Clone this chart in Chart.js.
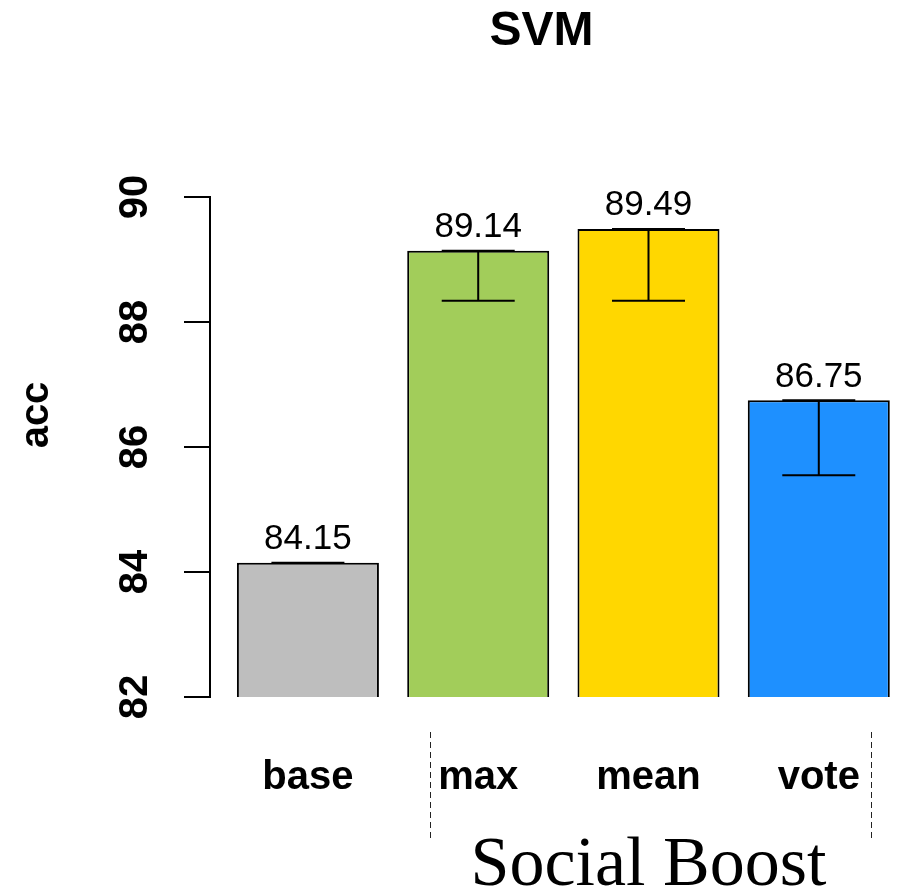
<!DOCTYPE html>
<html>
<head>
<meta charset="utf-8">
<script src="https://cdn.jsdelivr.net/npm/chart.js@4.4.1/dist/chart.umd.min.js"></script>
<style>
  html, body { margin: 0; padding: 0; background: #ffffff; }
  #wrap { width: 899px; height: 888px; }
</style>
</head>
<body>
<div id="wrap"><canvas id="c" width="899" height="888"></canvas></div>
<script>
// Accuracy of the SVM variants
const categories = ['base', 'max', 'mean', 'vote'];
const accuracy = [84.15, 89.14, 89.49, 86.75];
const lowerBound = [84.15, 88.34, 88.34, 85.55];
const barColors = ['#BEBEBE', '#A2CD5A', '#FFD700', '#1E90FF'];
const yTicks = [82, 84, 86, 88, 90];
const chartTitle = 'SVM';
const yTitle = 'acc';
const groupLabel = 'Social Boost';

const SANS = "'Liberation Sans', Arial, Helvetica, sans-serif";
const SERIF = "'Liberation Serif', 'Times New Roman', serif";

// group bracket (x in bar units) for the Social Boost methods
const bracketFrom = 0.716;
const bracketTo = 3.306;

const overlay = {
  id: 'overlay',
  afterDatasetsDraw(chart) {
    const ctx = chart.ctx;
    const ys = chart.scales.y;
    const meta = chart.getDatasetMeta(0);
    ctx.save();
    ctx.strokeStyle = '#000';
    ctx.lineWidth = 2;
    meta.data.forEach((bar, i) => {
      const cx = bar.x;
      const yTop = ys.getPixelForValue(accuracy[i]);
      const yLow = ys.getPixelForValue(lowerBound[i]);
      const half = bar.width * 0.257;
      ctx.beginPath();
      ctx.moveTo(cx, yTop); ctx.lineTo(cx, yLow);
      ctx.moveTo(cx - half, yTop); ctx.lineTo(cx + half, yTop);
      ctx.moveTo(cx - half, yLow); ctx.lineTo(cx + half, yLow);
      ctx.stroke();
      // value label
      ctx.fillStyle = '#000';
      ctx.font = '35px ' + SANS;
      ctx.textAlign = 'center';
      ctx.textBaseline = 'alphabetic';
      ctx.fillText(accuracy[i].toFixed(2), cx, yTop - 13.5);
    });
    ctx.restore();
  },
  afterDraw(chart) {
    const ctx = chart.ctx;
    const xs = chart.scales.x;
    const ys = chart.scales.y;
    ctx.save();
    ctx.fillStyle = '#000';
    // rotated y tick labels
    ctx.font = 'bold 40px ' + SANS;
    ctx.textAlign = 'center';
    ctx.textBaseline = 'middle';
    yTicks.forEach(v => {
      const y = ys.getPixelForValue(v);
      ctx.save();
      ctx.translate(136, y);
      ctx.rotate(-Math.PI / 2);
      ctx.fillText(String(v), 0, 0);
      ctx.restore();
    });
    // y axis title
    ctx.save();
    ctx.translate(48, (ys.top + ys.bottom) / 2 - 32);
    ctx.rotate(-Math.PI / 2);
    ctx.textBaseline = 'alphabetic';
    ctx.fillText(yTitle, 0, 0);
    ctx.restore();
    // group bracket and label
    const x1 = Math.round(xs.getPixelForValue(bracketFrom)) + 0.5;
    const x2 = Math.round(xs.getPixelForValue(bracketTo)) + 0.5;
    ctx.strokeStyle = '#222';
    ctx.lineWidth = 1;
    ctx.setLineDash([6, 4]);
    ctx.beginPath();
    ctx.moveTo(x1, 732); ctx.lineTo(x1, 838);
    ctx.moveTo(x2, 732); ctx.lineTo(x2, 838);
    ctx.stroke();
    ctx.setLineDash([]);
    ctx.font = '70px ' + SERIF;
    ctx.textAlign = 'center';
    ctx.textBaseline = 'alphabetic';
    const gx = (xs.getPixelForValue(1) + xs.getPixelForValue(3)) / 2;
    ctx.fillText(groupLabel, gx, 885);
    ctx.restore();
  }
};

new Chart(document.getElementById('c'), {
  type: 'bar',
  data: {
    datasets: [{
      data: categories.map((c, i) => ({ x: i, y: accuracy[i] })),
      backgroundColor: barColors,
      borderColor: '#000',
      borderWidth: 2,
      borderSkipped: 'start',
      barPercentage: 0.834,
      categoryPercentage: 1.0
    }]
  },
  options: {
    responsive: false,
    devicePixelRatio: 1,
    animation: false,
    events: [],
    layout: { padding: { left: 184, right: 0, top: 0, bottom: 37 } },
    plugins: {
      legend: { display: false },
      tooltip: { enabled: false },
      title: {
        display: true,
        text: chartTitle,
        color: '#000',
        font: { family: SANS, size: 48, weight: 'bold' },
        padding: { top: 3.2, bottom: 136.2 }
      }
    },
    scales: {
      x: {
        type: 'linear',
        offset: false,
        min: -0.575,
        max: 3.471,
        grid: { display: false },
        border: { display: false },
        afterBuildTicks(scale) {
          scale.ticks = categories.map((c, i) => ({ value: i }));
        },
        afterFit(scale) {
          scale.paddingLeft = 0;
          scale.paddingRight = 0;
        },
        ticks: {
          padding: 49,
          color: '#000',
          font: { family: SANS, size: 40, weight: 'bold' },
          autoSkip: false,
          maxRotation: 0,
          callback: (v) => categories[v]
        }
      },
      y: {
        min: 82,
        max: 90,
        afterBuildTicks(scale) {
          scale.ticks = yTicks.map(v => ({ value: v }));
        },
        grid: {
          drawOnChartArea: false,
          drawTicks: true,
          tickLength: 26,
          color: '#000',
          lineWidth: 2
        },
        border: { display: true, color: '#000', width: 2 },
        ticks: { display: false }
      }
    }
  },
  plugins: [overlay]
});
</script>
</body>
</html>
